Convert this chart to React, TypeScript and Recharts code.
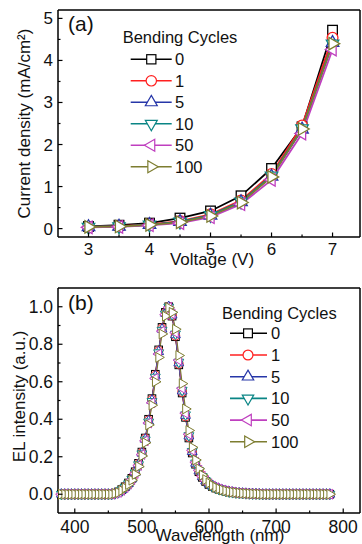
import { LineChart, Line, XAxis, YAxis, Legend } from "recharts";

const FONT = "'Liberation Sans', Arial, Helvetica, sans-serif";

// ---- (a) current density vs voltage ----
const voltage = [3, 3.5, 4, 4.5, 5, 5.5, 6, 6.5, 7];
const jv0 = [0.05, 0.08, 0.13, 0.25, 0.42, 0.78, 1.43, 2.42, 4.72];
const jv1 = [0.04, 0.06, 0.1, 0.18, 0.34, 0.67, 1.3, 2.45, 4.54];
const jv5 = [0.04, 0.05, 0.09, 0.16, 0.31, 0.63, 1.24, 2.36, 4.42];
const jv10 = [0.04, 0.05, 0.09, 0.16, 0.32, 0.64, 1.26, 2.38, 4.4];
const jv50 = [0.03, 0.04, 0.08, 0.13, 0.27, 0.58, 1.16, 2.26, 4.26];
const jv100 = [0.04, 0.05, 0.09, 0.15, 0.3, 0.62, 1.23, 2.37, 4.4];
const voltageTicks = [3, 3.5, 4, 4.5, 5, 5.5, 6, 6.5, 7];
const currentTicks = [0, 0.5, 1, 1.5, 2, 2.5, 3, 3.5, 4, 4.5, 5];

// ---- (b) EL spectra ----
const wavelength = [
  380, 385, 390, 395, 400, 405, 410, 415, 420, 425, 430, 435, 440, 445, 450, 455,
  460, 465, 470, 475, 480, 485, 490, 495, 500, 505, 510, 515, 520, 525, 530, 535,
  540, 545, 550, 555, 560, 565, 570, 575, 580, 585, 590, 595, 600, 605, 610, 615,
  620, 625, 630, 635, 640, 645, 650, 655, 660, 665, 670, 675, 680, 685, 690, 695,
  700, 705, 710, 715, 720, 725, 730, 735, 740, 745, 750, 755, 760, 765, 770, 775, 780,
];
const el0 = [
  0, 0, 0, 0, 0, 0, 0, 0, 0, 0, 0, 0, 0, 0, 0, 0,
  0.005, 0.012, 0.025, 0.04, 0.06, 0.085, 0.12, 0.165, 0.225, 0.3, 0.4, 0.51, 0.64, 0.77, 0.89,
  0.97, 1.0, 0.95, 0.84, 0.69, 0.54, 0.41, 0.3, 0.22, 0.16, 0.12, 0.09, 0.068, 0.052, 0.041,
  0.033, 0.026, 0.021, 0.017, 0.013, 0.01, 0.008, 0.006, 0.005, 0.004, 0.003, 0.002, 0.002, 0.001,
  0, 0, 0, 0, 0, 0, 0, 0, 0, 0, 0, 0, 0, 0, 0, 0, 0, 0, 0, 0, 0,
];
const el1 = [
  0, 0, 0, 0, 0, 0, 0, 0, 0, 0, 0, 0, 0, 0, 0, 0,
  0.005, 0.011, 0.024, 0.039, 0.058, 0.083, 0.118, 0.162, 0.222, 0.297, 0.395, 0.505, 0.635, 0.765, 0.885,
  0.968, 1.0, 0.952, 0.845, 0.695, 0.545, 0.415, 0.305, 0.224, 0.163, 0.122, 0.092, 0.07, 0.053, 0.042,
  0.033, 0.026, 0.021, 0.017, 0.013, 0.01, 0.008, 0.006, 0.005, 0.004, 0.003, 0.002, 0.002, 0.001,
  0, 0, 0, 0, 0, 0, 0, 0, 0, 0, 0, 0, 0, 0, 0, 0, 0, 0, 0, 0, 0,
];
const el5 = [
  0, 0, 0, 0, 0, 0, 0, 0, 0, 0, 0, 0, 0, 0, 0, 0,
  0.004, 0.011, 0.023, 0.038, 0.057, 0.082, 0.116, 0.16, 0.219, 0.293, 0.39, 0.5, 0.63, 0.76, 0.88,
  0.965, 1.0, 0.955, 0.85, 0.7, 0.55, 0.42, 0.31, 0.227, 0.165, 0.124, 0.093, 0.071, 0.054, 0.043,
  0.034, 0.027, 0.021, 0.017, 0.013, 0.01, 0.008, 0.006, 0.005, 0.004, 0.003, 0.002, 0.002, 0.001,
  0, 0, 0, 0, 0, 0, 0, 0, 0, 0, 0, 0, 0, 0, 0, 0, 0, 0, 0, 0, 0,
];
const el10 = [
  0, 0, 0, 0, 0, 0, 0, 0, 0, 0, 0, 0, 0, 0, 0, 0,
  0.004, 0.01, 0.022, 0.037, 0.056, 0.08, 0.114, 0.158, 0.216, 0.29, 0.386, 0.495, 0.625, 0.755, 0.875,
  0.962, 0.998, 0.958, 0.855, 0.705, 0.555, 0.424, 0.313, 0.229, 0.167, 0.125, 0.094, 0.072, 0.055, 0.043,
  0.034, 0.027, 0.022, 0.017, 0.013, 0.01, 0.008, 0.006, 0.005, 0.004, 0.003, 0.002, 0.002, 0.001,
  0, 0, 0, 0, 0, 0, 0, 0, 0, 0, 0, 0, 0, 0, 0, 0, 0, 0, 0, 0, 0,
];
const el50 = [
  0, 0, 0, 0, 0, 0, 0, 0, 0, 0, 0, 0, 0, 0, 0, 0,
  0.004, 0.01, 0.021, 0.036, 0.054, 0.078, 0.111, 0.154, 0.212, 0.285, 0.38, 0.488, 0.618, 0.748, 0.87,
  0.958, 0.997, 0.962, 0.862, 0.715, 0.565, 0.432, 0.32, 0.234, 0.171, 0.128, 0.096, 0.073, 0.056, 0.044,
  0.035, 0.028, 0.022, 0.018, 0.014, 0.011, 0.008, 0.006, 0.005, 0.004, 0.003, 0.002, 0.002, 0.001,
  0, 0, 0, 0, 0, 0, 0, 0, 0, 0, 0, 0, 0, 0, 0, 0, 0, 0, 0, 0, 0,
];
const el100 = [
  0, 0, 0, 0, 0, 0, 0, 0, 0, 0, 0, 0, 0, 0, 0, 0,
  0.004, 0.009, 0.02, 0.034, 0.052, 0.075, 0.106, 0.148, 0.204, 0.275, 0.37, 0.475, 0.6, 0.73, 0.855,
  0.95, 0.995, 0.97, 0.88, 0.74, 0.59, 0.455, 0.34, 0.25, 0.183, 0.136, 0.102, 0.078, 0.06, 0.047,
  0.037, 0.029, 0.023, 0.018, 0.014, 0.011, 0.009, 0.007, 0.005, 0.004, 0.003, 0.002, 0.002, 0.001,
  0, 0, 0, 0, 0, 0, 0, 0, 0, 0, 0, 0, 0, 0, 0, 0, 0, 0, 0, 0, 0,
];
const wavelengthTicks = [400, 450, 500, 550, 600, 650, 700, 750, 800];
const intensityTicks = [0, 0.1, 0.2, 0.3, 0.4, 0.5, 0.6, 0.7, 0.8, 0.9, 1.0];

const cycles = ["0", "1", "5", "10", "50", "100"];

const STYLES = [
  { color: "#000000", shape: "square" },
  { color: "#ff2020", shape: "circle" },
  { color: "#2636a8", shape: "up" },
  { color: "#0a8585", shape: "down" },
  { color: "#bf3fbf", shape: "left" },
  { color: "#7d7d30", shape: "right" },
];

const jvRows = voltage.map((v, i) => ({
  v, s0: jv0[i], s1: jv1[i], s2: jv5[i], s3: jv10[i], s4: jv50[i], s5: jv100[i],
}));
const elRows = wavelength.map((w, i) => ({
  w, s0: el0[i], s1: el1[i], s2: el5[i], s3: el10[i], s4: el50[i], s5: el100[i],
}));

function Marker({ shape, x, y, size, color, sw }: any) {
  const common = { fill: "#fff", stroke: color, strokeWidth: sw };
  if (shape === "square") {
    const s = size * 0.8;
    return <rect x={x - s / 2} y={y - s / 2} width={s} height={s} {...common} />;
  }
  if (shape === "circle") return <circle cx={x} cy={y} r={size * 0.45} {...common} />;
  const ang = { up: -90, down: 90, left: 180, right: 0 }[shape as "up"] ?? 0;
  const R = size * 0.6;
  const pts = [0, 120, 240]
    .map((d) => {
      const a = ((ang + d) * Math.PI) / 180;
      return `${x + R * Math.cos(a)},${y + R * Math.sin(a)}`;
    })
    .join(" ");
  return <polygon points={pts} {...common} />;
}

const dotFor = (i: number, size: number, sw: number) => (p: any) =>
  <Marker key={`m${i}-${p.index}`} shape={STYLES[i].shape} x={p.cx} y={p.cy} size={size} color={STYLES[i].color} sw={sw} />;

const xTick = (isMajor: (v: number) => boolean, fmt: (v: number) => string, dy: number, fs: number) => (p: any) => {
  const v = p.payload.value;
  const major = isMajor(v);
  return (
    <g key={`xt${v}`}>
      <line x1={p.x} x2={p.x} y1={p.y} y2={p.y - (major ? 4.5 : 2.5)} stroke="#000" strokeWidth={1.2} />
      {major && (
        <text x={p.x} y={p.y + dy} textAnchor="middle" fontSize={fs} fontFamily={FONT} fill="#111">
          {fmt(v)}
        </text>
      )}
    </g>
  );
};

const yTick = (isMajor: (v: number) => boolean, fmt: (v: number) => string, fs: number) => (p: any) => {
  const v = p.payload.value;
  const major = isMajor(v);
  return (
    <g key={`yt${v}`}>
      <line x1={p.x} x2={p.x + (major ? 4.5 : 2.5)} y1={p.y} y2={p.y} stroke="#000" strokeWidth={1.2} />
      {major && (
        <text x={p.x - 5} y={p.y} dy={6} textAnchor="end" fontSize={fs} fontFamily={FONT} fill="#111">
          {fmt(v)}
        </text>
      )}
    </g>
  );
};

function XTitle({ viewBox, text, dx, base }: any) {
  const vb = viewBox || { x: 58, y: 237, width: 302, height: 30 };
  return (
    <text x={vb.x + vb.width / 2 + dx} y={vb.y + base} textAnchor="middle" fontSize={17} fontFamily={FONT} fill="#111">
      {text}
    </text>
  );
}

function YTitle({ viewBox, text, cx, dy }: any) {
  const vb = viewBox || { x: 18, y: 10, width: 40, height: 227 };
  const cy = vb.y + vb.height / 2 + dy;
  return (
    <text x={cx} y={cy} transform={`rotate(-90 ${cx} ${cy})`} textAnchor="middle" dy={6}
      fontSize={17} fontFamily={FONT} fill="#111">
      {text}
    </text>
  );
}

function PanelTag({ viewBox, text, base }: any) {
  const vb = viewBox || { x: 58, y: 10 };
  return (
    <text x={vb.x + 10} y={vb.y + base} fontSize={21} fontFamily={FONT} fill="#111">
      {text}
    </text>
  );
}

function CycleLegend({ g }: any) {
  return (
    <svg width={140} height={170} style={{ display: "block", overflow: "visible" }}>
      <text x={g.titleX} y={g.titleY} fontSize={16.5} fontFamily={FONT} fill="#111">
        Bending Cycles
      </text>
      {cycles.map((c, i) => {
        const y = g.row0 + i * g.gap;
        return (
          <g key={c}>
            <line x1={g.l1} x2={g.l2} y1={y} y2={y} stroke={STYLES[i].color} strokeWidth={1.6} />
            <Marker shape={STYLES[i].shape} x={g.mx} y={y} size={g.ms} color={STYLES[i].color} sw={1.2} />
            <text x={g.tx} y={y + 6} fontSize={16.5} fontFamily={FONT} fill="#111">
              {c}
            </text>
          </g>
        );
      })}
    </svg>
  );
}

const LEG_A = { titleX: 4.7, titleY: 21, l1: 12.7, l2: 53.7, mx: 33.3, tx: 57, row0: 37.3, gap: 21.5, ms: 11.5 };
const LEG_B = { titleX: 4, titleY: 28.5, l1: 12, l2: 49, mx: 30, tx: 53, row0: 43.3, gap: 21.7, ms: 11 };

const frame = { stroke: "#000", strokeWidth: 1.5 };

export default function App() {
  return (
    <div style={{ position: "absolute", left: 0, top: 0, width: 362, height: 544, background: "#fff", fontFamily: FONT }}>
      <div style={{ position: "absolute", left: 0, top: 0 }}>
        <LineChart width={362} height={270} data={jvRows} margin={{ top: 9, right: 1, left: 18, bottom: 3 }}>
          <XAxis dataKey="v" type="number" domain={[2.5, 7.45]} ticks={voltageTicks} interval={0}
            tickSize={0} tickMargin={0} tickLine={false} axisLine={frame} height={30}
            tick={xTick((v) => Number.isInteger(v), (v) => String(v), 18, 17)}
            label={<XTitle text="Voltage (V)" dx={3} base={28} />} />
          <XAxis xAxisId="top" dataKey="v" type="number" domain={[2.5, 7.45]} orientation="top" height={1}
            ticks={[7]} tick={false} tickLine={false} axisLine={frame} label={<PanelTag text="(a)" base={22} />} />
          <YAxis type="number" domain={[-0.2, 5.2]} ticks={currentTicks} interval={0} width={40}
            allowDataOverflow tickSize={0} tickMargin={0} tickLine={false} axisLine={frame}
            tick={yTick((v) => Number.isInteger(v), (v) => String(v), 17)}
            label={<YTitle text="Current density (mA/cm²)" cx={24} dy={0} />} />
          <YAxis yAxisId="right" orientation="right" type="number" domain={[-0.2, 5.2]} width={1}
            ticks={[0]} tick={false} tickLine={false} axisLine={frame} />
          {STYLES.map((st, i) => (
            <Line key={i} dataKey={`s${i}`} stroke={st.color} strokeWidth={1.8} isAnimationActive={false}
              dot={dotFor(i, 12, 1.3)} activeDot={false} />
          ))}
          <Legend layout="vertical" align="center" verticalAlign="middle"
            wrapperStyle={{ left: 118, top: 22, width: 140, height: 170 }}
            content={() => <CycleLegend g={LEG_A} />} />
        </LineChart>
      </div>
      <div style={{ position: "absolute", left: 0, top: 270 }}>
        <LineChart width={362} height={274} data={elRows} margin={{ top: 17, right: 1, left: 18, bottom: 3 }}>
          <XAxis dataKey="w" type="number" domain={[375, 825]} ticks={wavelengthTicks} interval={0}
            tickSize={0} tickMargin={0} tickLine={false} axisLine={frame} height={28}
            tick={xTick((v) => v % 100 === 0, (v) => String(v), 20, 17.5)}
            label={<XTitle text="Wavelength (nm)" dx={11} base={28} />} />
          <XAxis xAxisId="top" dataKey="w" type="number" domain={[375, 825]} orientation="top" height={1}
            ticks={[800]} tick={false} tickLine={false} axisLine={frame} label={<PanelTag text="(b)" base={22.5} />} />
          <YAxis type="number" domain={[-0.1, 1.1]} ticks={intensityTicks} interval={0} width={40}
            allowDataOverflow tickSize={0} tickMargin={0} tickLine={false} axisLine={frame}
            tick={yTick((v) => Math.round(v * 10) % 2 === 0, (v) => v.toFixed(1), 17.5)}
            label={<YTitle text="EL intensity (a.u.)" cx={18.5} dy={-4} />} />
          <YAxis yAxisId="right" orientation="right" type="number" domain={[-0.1, 1.1]} width={1}
            ticks={[0]} tick={false} tickLine={false} axisLine={frame} />
          {STYLES.map((st, i) => (
            <Line key={i} dataKey={`s${i}`} stroke={st.color} strokeWidth={1.1} isAnimationActive={false}
              dot={dotFor(i, 9.5, 1)} activeDot={false} />
          ))}
          <Legend layout="vertical" align="center" verticalAlign="middle"
            wrapperStyle={{ left: 218, top: 20, width: 140, height: 170 }}
            content={() => <CycleLegend g={LEG_B} />} />
        </LineChart>
      </div>
    </div>
  );
}
